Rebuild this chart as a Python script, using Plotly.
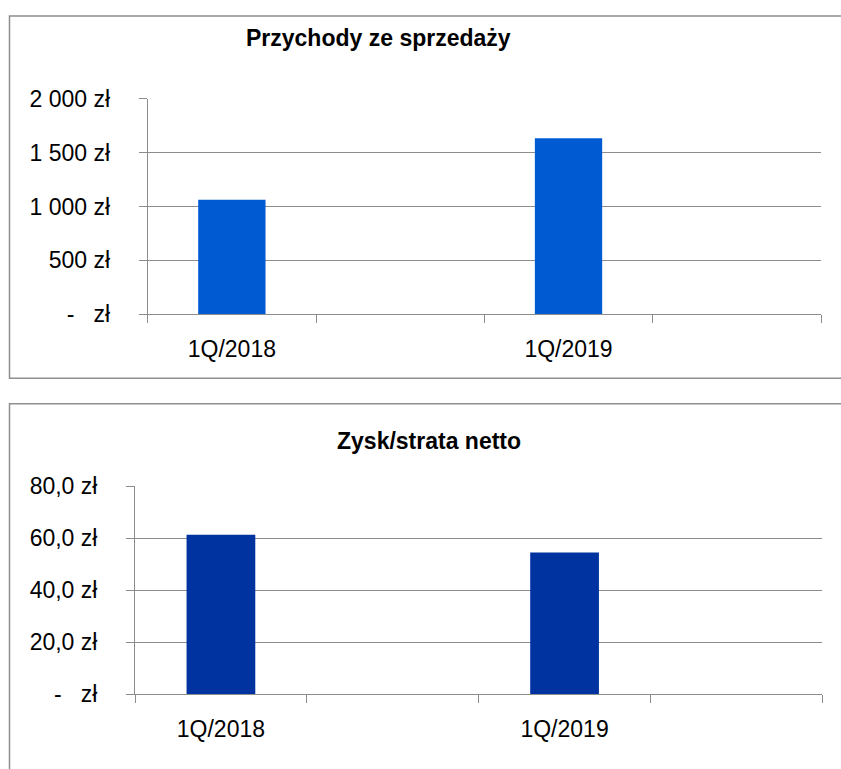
import plotly.graph_objects as go

# ---- data ----
categories = ["1Q/2018", "", "1Q/2019", ""]
revenue = [1063, None, 1634, None]
net_profit = [61.4, None, 54.6, None]

rev_tickvals = [0, 500, 1000, 1500, 2000]
rev_ticktext = ["-\u00a0\u00a0\u00a0zł", "500 zł", "1 000 zł", "1 500 zł", "2 000 zł"]
np_tickvals = [0, 20, 40, 60, 80]
np_ticktext = ["-\u00a0\u00a0\u00a0zł", "20,0 zł", "40,0 zł", "60,0 zł", "80,0 zł"]

title_top = "Przychody ze sprzedaży"
title_bottom = "Zysk/strata netto"

# ---- layout helpers ----
W, H = 841, 769
def fx(px):
    return px / W
def fy(py):
    return 1 - py / H

FONT = "Liberation Sans"
GRID = "#8c8c8c"
idx = list(range(len(categories)))
label_vals = [i for i, c in enumerate(categories) if c]
label_text = [c for c in categories if c]

fig = go.Figure()
fig.add_trace(go.Bar(x=idx, y=revenue, width=0.4, marker=dict(color="#005BD3", line=dict(width=0)),
                     xaxis="x", yaxis="y", showlegend=False, hoverinfo="skip"))
fig.add_trace(go.Bar(x=idx, y=net_profit, width=0.4, marker=dict(color="#0033A0", line=dict(width=0)),
                     xaxis="x2", yaxis="y2", showlegend=False, hoverinfo="skip"))

def xaxis(domain, anchor):
    return dict(domain=domain, anchor=anchor, range=[-0.5, len(categories) - 0.5],
                tickmode="array", tickvals=label_vals, ticktext=label_text, ticks="",
                showgrid=False, zeroline=False, showline=True, linecolor=GRID, linewidth=1,
                minor=dict(tickmode="linear", tick0=-0.5, dtick=1, ticks="outside", ticklen=8,
                           tickcolor=GRID, tickwidth=1, showgrid=False),
                tickfont=dict(family=FONT, size=23, color="#000"), ticklabelstandoff=14,
                fixedrange=True)

def yaxis(domain, anchor, rng, tv, tt):
    return dict(domain=domain, anchor=anchor, range=rng, tickmode="array", tickvals=tv, ticktext=tt,
                ticks="outside", ticklen=8, tickcolor=GRID, tickwidth=1,
                showgrid=True, gridcolor=GRID, gridwidth=1, zeroline=False,
                showline=True, linecolor=GRID, linewidth=1,
                tickfont=dict(family=FONT, size=23, color="#000"), ticklabelstandoff=24,
                fixedrange=True)

fig.update_layout(
    width=W, height=H, margin=dict(l=0, r=0, t=0, b=0),
    paper_bgcolor="white", plot_bgcolor="white",
    xaxis=xaxis([fx(147.7), fx(821)], "y"),
    yaxis=yaxis([fy(311.7), fy(89)], "x", [0, 2000], rev_tickvals, rev_ticktext),
    xaxis2=xaxis([fx(135), fx(822.3)], "y2"),
    yaxis2=yaxis([fy(705), fy(490)], "x2", [0, 80], np_tickvals, np_ticktext),
    shapes=[
        dict(type="rect", xref="paper", yref="paper", x0=fx(9.5), x1=fx(860), y0=fy(378), y1=fy(3),
             line=dict(color="#8f8f8f", width=1.5), fillcolor="rgba(0,0,0,0)", layer="below"),
        dict(type="rect", xref="paper", yref="paper", x0=fx(9.5), x1=fx(860), y0=fy(790), y1=fy(404.5),
             line=dict(color="#8f8f8f", width=1.5), fillcolor="rgba(0,0,0,0)", layer="below"),
    ],
    annotations=[
        dict(text="<b>" + title_top + "</b>", xref="paper", yref="paper", x=fx(378), y=fy(26),
             xanchor="center", yanchor="middle", showarrow=False,
             font=dict(family=FONT, size=23, color="#000")),
        dict(text="<b>" + title_bottom + "</b>", xref="paper", yref="paper", x=fx(429), y=fy(443),
             xanchor="center", yanchor="middle", showarrow=False,
             font=dict(family=FONT, size=23, color="#000")),
    ],
)

fig.write_html("out.html", config={"displayModeBar": False},
               post_script="document.body.style.margin='0';document.body.style.overflow='hidden';")
